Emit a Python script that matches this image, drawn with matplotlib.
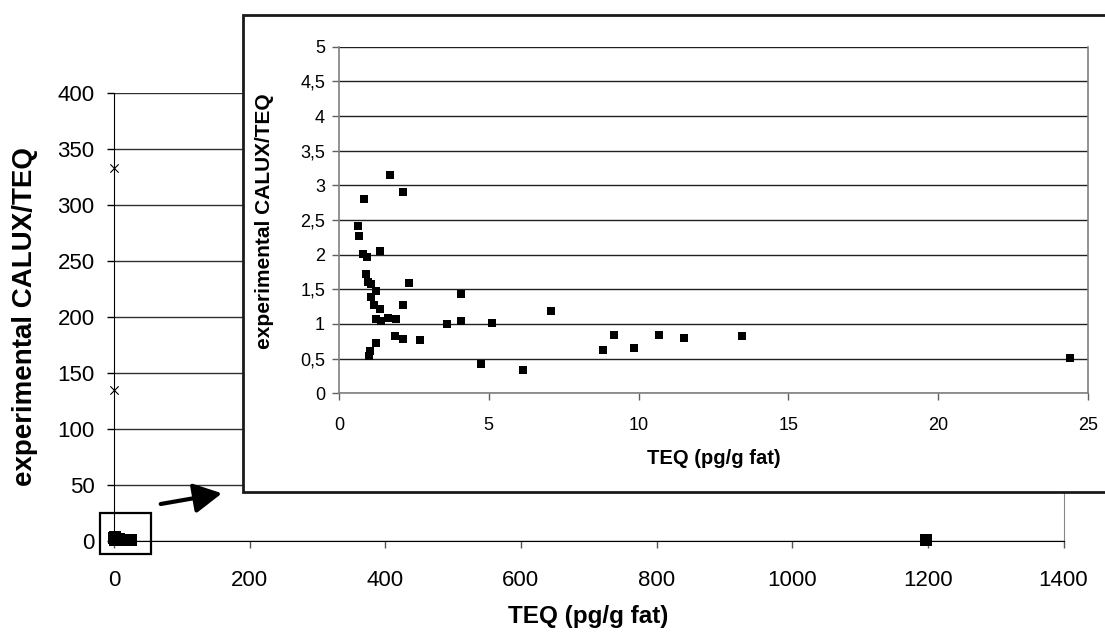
import numpy as np
import matplotlib
matplotlib.use("Agg")
import matplotlib.pyplot as plt
from matplotlib.patches import Rectangle, FancyArrowPatch
from matplotlib.ticker import FuncFormatter

plt.rcParams['font.family'] = ['Liberation Sans', 'DejaVu Sans']

# TEQ (pg/g fat) and experimental CALUX/TEQ ratio per sample
teq = [1.70, 2.12, 0.83, 0.65, 0.68, 0.79, 0.93, 1.36, 0.90, 0.96, 1.06,
       1.23, 1.08, 1.17, 1.36, 2.35, 2.12, 1.22, 1.41, 1.65, 1.89, 1.87,
       2.12, 1.22, 1.02, 0.99, 2.70, 3.62, 4.06, 4.06, 5.11, 4.75, 6.13,
       7.09, 8.81, 9.19, 9.84, 10.69, 11.50, 13.45, 24.41]
ratio = [3.15, 2.91, 2.80, 2.42, 2.27, 2.01, 1.96, 2.05, 1.72, 1.61, 1.58,
         1.48, 1.39, 1.28, 1.21, 1.59, 1.27, 1.07, 1.05, 1.09, 1.07, 0.82,
         0.79, 0.72, 0.61, 0.54, 0.77, 1.00, 1.43, 1.05, 1.02, 0.42, 0.33,
         1.19, 0.62, 0.84, 0.65, 0.84, 0.80, 0.83, 0.51]

# high-TEQ sample only shown on the full-range chart
teq_high = [1197]
ratio_high = [0.9]

# samples with extreme ratios (cross markers)
teq_extreme = [0, 0]
ratio_extreme = [333, 135]

main_xticks = [0, 200, 400, 600, 800, 1000, 1200, 1400]
main_yticks = [0, 50, 100, 150, 200, 250, 300, 350, 400]
inset_xticks = [0, 5, 10, 15, 20, 25]
inset_yticks = [0, 0.5, 1, 1.5, 2, 2.5, 3, 3.5, 4, 4.5, 5]

W, H = 1105, 642
fig = plt.figure(figsize=(W / 100, H / 100), dpi=100)

# ---- full-range chart ----
ax = fig.add_axes([114 / W, 1 - 540.7 / H, 949.5 / W, 448 / H])
ax.set_xlim(0, 1400)
ax.set_ylim(0, 400)
ax.set_xticks(main_xticks)
ax.set_yticks(main_yticks)
ax.grid(axis='y', color='#303030', lw=1)
ax.set_axisbelow(True)
ax.spines['top'].set_visible(False)
ax.spines['right'].set_color('#888888')
ax.spines['left'].set_color('black')
ax.spines['bottom'].set_color('black')
ax.tick_params(axis='both', direction='out', length=5, width=1, labelsize=16)
ax.tick_params(axis='y', pad=9)
ax.tick_params(axis='x', pad=16, color='#555555')
ax.scatter(teq + teq_high, ratio + ratio_high, marker='s', s=9 ** 2,
           color='black', lw=0, clip_on=False, zorder=3)
ax.scatter(teq_extreme, ratio_extreme, marker='x', s=6 ** 2, color='black',
           lw=0.8, clip_on=False, zorder=3)

# box marking the zoomed region
ax.add_patch(Rectangle((-20.5, -12), 75, 36.5, fill=False, ec='black',
                       lw=1.6, clip_on=False, zorder=4))

fig.text(25 / W, 1 - 317 / H, 'experimental CALUX/TEQ', rotation=90,
         ha='center', va='center', fontsize=20, fontweight='bold')
fig.text(588 / W, 1 - 617 / H, 'TEQ (pg/g fat)', ha='center', va='center',
         fontsize=17.5, fontweight='bold')

# arrow pointing from the box to the zoomed chart
fig.patches.append(FancyArrowPatch(
    (160.7 / W, 1 - 504 / H), (222 / W, 1 - 493.3 / H),
    transform=fig.transFigure, arrowstyle='-|>,head_length=17,head_width=9',
    mutation_scale=1, lw=3, color='black', shrinkA=0, shrinkB=0, zorder=2))

# ---- zoomed chart frame ----
fig.patches.append(Rectangle((243 / W, 1 - 492 / H), 0.9, (492 - 15) / H,
                             transform=fig.transFigure, facecolor='white',
                             edgecolor='#1a1a1a', lw=2, zorder=1))

axi = fig.add_axes([339 / W, 1 - 393.3 / H, 749 / W, 346.6 / H], zorder=2)
axi.set_facecolor('none')
axi.scatter(teq, ratio, marker='s', s=6.3 ** 2, color='black', lw=0,
            zorder=3, clip_on=False)
axi.set_xlim(0, 25)
axi.set_ylim(0, 5)
axi.set_xticks(inset_xticks)
axi.set_yticks(inset_yticks)
axi.yaxis.set_major_formatter(FuncFormatter(
    lambda v, p: ('%g' % v).replace('.', ',')))
axi.grid(axis='y', color='#202020', lw=1)
axi.set_axisbelow(True)
axi.spines['top'].set_visible(False)
for s in ['left', 'right', 'bottom']:
    axi.spines[s].set_color('#808080')
    axi.spines[s].set_lw(1.2)
axi.tick_params(axis='both', direction='out', length=5, width=1,
                color='#606060', labelsize=13)
axi.tick_params(axis='y', pad=5)
axi.tick_params(axis='x', pad=12)
fig.text(714 / W, 1 - 459 / H, 'TEQ (pg/g fat)', ha='center', va='center',
         fontsize=14.5, fontweight='bold')
fig.text(264 / W, 1 - 221 / H, 'experimental CALUX/TEQ', rotation=90,
         ha='center', va='center', fontsize=15, fontweight='bold')

fig.savefig('out.png', dpi=100)
